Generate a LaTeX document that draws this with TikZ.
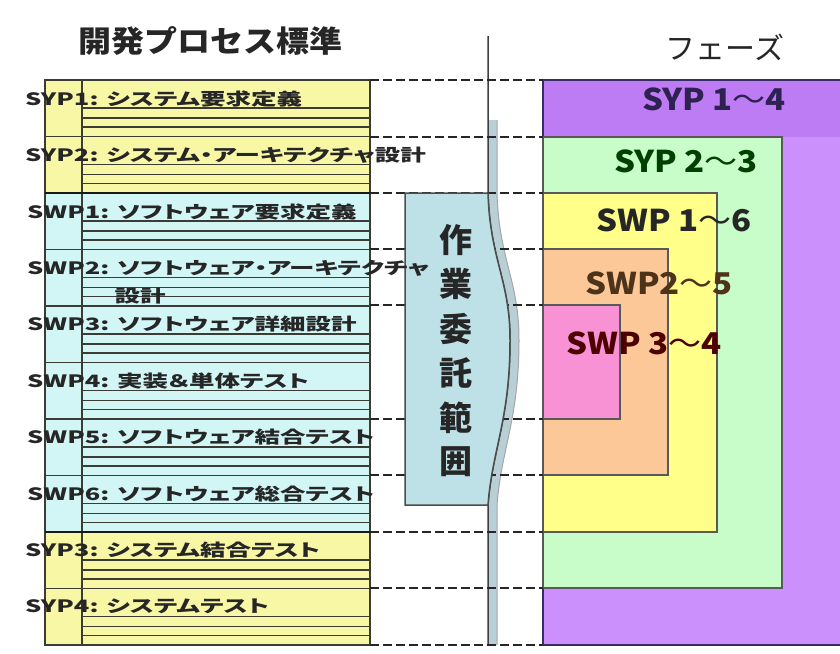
\documentclass[tikz,border=0pt]{standalone}
\usepackage{fontspec}
\usepackage{graphicx}
\newfontfamily\jp{Noto Sans CJK JP}
\newfontfamily\jpp[RawFeature=+palt]{Noto Sans CJK JP}
\definecolor{rowY}{HTML}{F7F7A6}
\definecolor{rowC}{HTML}{D2F6F6}
\definecolor{rowdark}{HTML}{3C3C34}
\definecolor{purp}{HTML}{CB90FC}
\definecolor{purptop}{HTML}{BE7CF4}
\definecolor{purpdark}{HTML}{3A2A66}
\definecolor{grn}{HTML}{C8FCC8}
\definecolor{yel}{HTML}{FFFF8A}
\definecolor{orng}{HTML}{FCC898}
\definecolor{pnk}{HTML}{F892D4}
\definecolor{boxblue}{HTML}{BDE1E6}
\definecolor{bandc}{HTML}{B9CFD6}
\newcommand\wv{{\mdseries ～}}
\begin{document}
\begin{tikzpicture}[x=1pt,y=-1pt,
  rowline/.style={draw=rowdark,line width=1.6pt},
  sepline/.style={draw=black!85,line width=2pt,dash pattern=on 9pt off 4pt},
  phasebox/.style={draw=black!65,line width=1.4pt},
  lbl/.style={anchor=west,inner sep=0pt,text=black!85,font=\fontsize{17}{17}\selectfont\jpp\bfseries},
  plbl/.style={inner sep=0pt,font=\fontsize{30}{30}\selectfont\jp\bfseries},
  vchar/.style={inner sep=0pt,text=black!85,font=\fontsize{33}{33}\selectfont\jp\bfseries},
]
\useasboundingbox (0,0) rectangle (840,653);
\fill[white] (0,0) rectangle (840,653);

% ---- left block: process standard rows
\foreach \i/\c in {0/rowY,1/rowY,2/rowC,3/rowC,4/rowC,5/rowC,6/rowC,7/rowC,8/rowY,9/rowY}{
  \pgfmathsetmacro\t{80+56.5*\i}
  \fill[\c] (45,\t) rectangle (370,\t+56.5);
  \draw[rowline] (82,\t+28) -- (370,\t+28) (82,\t+38) -- (370,\t+38) (82,\t+47) -- (370,\t+47);
  \draw[rowline] (45,\t) -- (370,\t);
}
\draw[rowline] (45,80) rectangle (370,645);
\draw[rowline] (82,80) -- (82,645);
\draw[draw=black!90,line width=2.2pt] (45,193) -- (370,193) (45,532) -- (370,532);

% ---- phase boxes
\fill[purp] (543,80) rectangle (840,645);
\fill[purptop] (543,80) rectangle (840,137);
\draw[draw=purpdark,line width=1.6pt] (840,80) -- (543,80) -- (543,645) -- (840,645);
\draw[phasebox,fill=grn] (543,137) rectangle (782,588);
\draw[phasebox,fill=yel] (543,193) rectangle (717,532);
\draw[phasebox,fill=orng] (543,249) rectangle (668,475);
\draw[phasebox,fill=pnk] (543,305) rectangle (620,419);

% ---- cut line (torn edge)
\draw[line width=9pt,draw=bandc] (492.5,120) -- (492.5,193) .. controls (494.5,260) and (514.5,280) .. (514.5,340) .. controls (514.5,420) and (496.5,450) .. (492.5,505) -- (492.5,645);
\draw[line width=1pt,draw=gray!70] (497,120) -- (497,193) .. controls (499,260) and (519,280) .. (519,340) .. controls (519,420) and (501,450) .. (497,505) -- (497,645);
\draw[line width=1.5pt,draw=black!75] (488,36) -- (488,193) .. controls (490,260) and (510,280) .. (510,340) .. controls (510,420) and (492,450) .. (488,505) -- (488,645);

% ---- dashed separators
\foreach \y in {80,137,193,249,305,419,475,532,588,645}
  \draw[sepline] (370,\y) -- (543,\y);

% ---- outsourcing scope box
\draw[fill=boxblue,draw=black!70,line width=1.5pt] (405,193) -- (488,193) .. controls (490,260) and (510,280) .. (510,340) .. controls (510,420) and (492,450) .. (488,505) -- (405,505) -- cycle;
\foreach \ch [count=\k from 0] in {作,業,委,託,範,囲}
  \node[vchar] (v\k) at (456,240+44.4*\k) {\ch};

% ---- titles
\node[inner sep=0pt,text=black!85,font=\fontsize{30}{30}\selectfont\jp\bfseries] (title) at (210,41) {\scalebox{1.1}[1]{開発プロセス標準}};
\node[inner sep=0pt,text=black!85,font=\fontsize{30}{30}\selectfont\jp] (phase) at (725,47) {フェーズ};

% ---- process labels
\node[lbl] (l1) at (25,99) {\scalebox{1.5}[1]{SYP1: システム要求定義}};
\node[lbl] (l2) at (25,155) {\scalebox{1.5}[1]{SYP2: システム・アーキテクチャ設計}};
\node[lbl] (l3) at (27,212) {\scalebox{1.5}[1]{SWP1: ソフトウェア要求定義}};
\node[lbl] (l4) at (27,268) {\scalebox{1.5}[1]{SWP2: ソフトウェア・アーキテクチャ}};
\node[lbl,anchor=center] (l4b) at (140,296) {\scalebox{1.5}[1]{設計}};
\node[lbl] (l5) at (27,324) {\scalebox{1.5}[1]{SWP3: ソフトウェア詳細設計}};
\node[lbl] (l6) at (27,381) {\scalebox{1.5}[1]{SWP4: 実装＆単体テスト}};
\node[lbl] (l7) at (27,437) {\scalebox{1.5}[1]{SWP5: ソフトウェア結合テスト}};
\node[lbl] (l8) at (27,494) {\scalebox{1.5}[1]{SWP6: ソフトウェア総合テスト}};
\node[lbl] (l9) at (25,550) {\scalebox{1.5}[1]{SYP3: システム結合テスト}};
\node[lbl] (l10) at (25,606) {\scalebox{1.5}[1]{SYP4: システムテスト}};

% ---- phase labels
\node[plbl,text=purpdark!80!black] (p1) at (714,99) {\scalebox{1.1}[1]{SYP 1\wv4}};
\node[plbl,text=green!25!black] (p2) at (686,161) {\scalebox{1.1}[1]{SYP 2\wv3}};
\node[plbl,text=black!85] (p3) at (674,220) {\scalebox{1.1}[1]{SWP 1\wv6}};
\node[plbl,text=brown!40!black] (p4) at (659,283) {\scalebox{1.1}[1]{SWP2\wv5}};
\node[plbl,text=red!30!black] (p5) at (644,343) {\scalebox{1.1}[1]{SWP 3\wv4}};
\end{tikzpicture}
\end{document}
